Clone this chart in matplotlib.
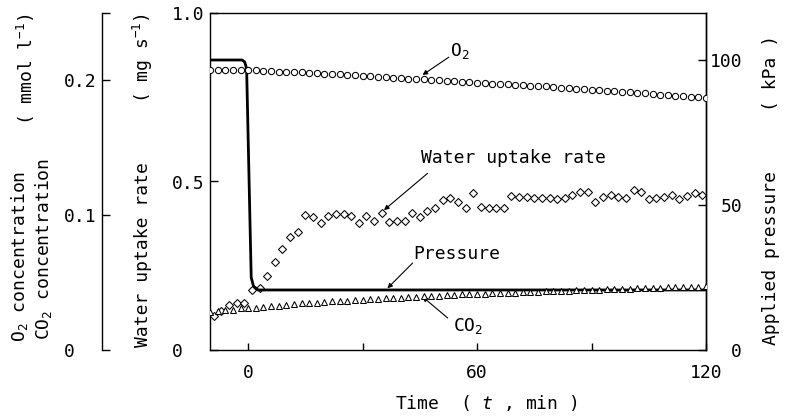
import matplotlib
matplotlib.use("Agg")
import matplotlib.pyplot as plt
import numpy as np

plt.rcParams['font.family'] = ['DejaVu Sans Mono']
plt.rcParams['mathtext.fontset'] = 'custom'
plt.rcParams['mathtext.rm'] = 'DejaVu Sans Mono'
plt.rcParams['mathtext.it'] = 'DejaVu Sans Mono:italic'
plt.rcParams['mathtext.default'] = 'rm'

# ---------------- data ----------------
# O2 / CO2 concentration (mmol l-1), sampled every 2 min from -10 to 120
gas_time = np.arange(-10, 121, 2)
o2_conc = [0.208, 0.208, 0.208, 0.208, 0.208, 0.208,
           0.2075, 0.207, 0.207, 0.2065, 0.2065, 0.206, 0.206, 0.2055, 0.2055,
           0.205, 0.205, 0.2045, 0.204, 0.204, 0.2035,
           0.203, 0.2027, 0.2024, 0.202, 0.2017, 0.2013, 0.201, 0.2007, 0.2003,
           0.200, 0.1997, 0.1993, 0.199, 0.1987, 0.1983, 0.198, 0.1977, 0.1973,
           0.197, 0.1967, 0.1963, 0.196, 0.1957,
           0.1955, 0.1951, 0.1947, 0.1943, 0.1939, 0.1935, 0.1931, 0.1927, 0.1923,
           0.1919, 0.1915, 0.1911, 0.1907, 0.1903, 0.1899, 0.1895, 0.1891, 0.1887,
           0.1883, 0.1879, 0.1875, 0.1871]
co2_conc = [0.028, 0.029, 0.030, 0.030, 0.031, 0.031, 0.0315, 0.032, 0.0325, 0.033,
            0.0335, 0.034, 0.0345, 0.035, 0.0352, 0.0356, 0.036, 0.0363, 0.0367, 0.037,
            0.0373, 0.0376, 0.038, 0.0383, 0.0386, 0.0389, 0.0392, 0.0395, 0.0398, 0.0401,
            0.0404, 0.0407, 0.041, 0.0412, 0.0414, 0.0416, 0.0418, 0.042, 0.0422, 0.0424,
            0.0426, 0.0428, 0.043, 0.0432, 0.0434, 0.0436, 0.0438, 0.044, 0.0442, 0.0444,
            0.0446, 0.0448, 0.045, 0.0452, 0.0454, 0.0456, 0.0458, 0.046, 0.0462, 0.0463,
            0.0465, 0.0466, 0.0468, 0.0469, 0.047, 0.0472]

# Water uptake rate (mg s-1), every 2 min at odd minutes
water_time = np.arange(-9, 120, 2)
water_rate = [0.100, 0.115, 0.133, 0.138, 0.140, 0.178, 0.183, 0.220, 0.262, 0.300,
              0.334, 0.350, 0.400, 0.394, 0.376, 0.398, 0.403, 0.403, 0.398, 0.376,
              0.398, 0.383, 0.406, 0.381, 0.384, 0.384, 0.406, 0.394, 0.413, 0.420,
              0.445, 0.450, 0.438, 0.420, 0.465, 0.425, 0.420, 0.420, 0.422, 0.458,
              0.455, 0.455, 0.452, 0.450, 0.450, 0.447, 0.450, 0.460, 0.470, 0.468,
              0.440, 0.455, 0.460, 0.455, 0.452, 0.475, 0.470, 0.448, 0.450, 0.455,
              0.460, 0.448, 0.458, 0.465, 0.460]

# Applied pressure (kPa)
pressure_time = [-10, -1.6, -0.9, -0.4, 0.8, 1.4, 2.6, 120]
pressure_kpa = [100, 100, 99.3, 97, 25, 22, 20.7, 20.7]

# ---------------- figure ----------------
W, H = 785, 419
fig = plt.figure(figsize=(W / 100, H / 100), dpi=100)
L, R, T, B = 210, 706, 13, 350
ax = fig.add_axes([L / W, 1 - B / H, (R - L) / W, (B - T) / H])
ax.set_xlim(-10, 120)
ax.set_ylim(0, 1.0)

ax_p = ax.twinx()
ax_p.set_ylim(0, (B - T) / 2.9)
ax_c = ax.twinx()
ax_c.set_ylim(0, 0.25)

fs = 13
lw_sp = 1.0
for s in ax.spines.values():
    s.set_linewidth(lw_sp)
for s in ax_p.spines.values():
    s.set_visible(False)
ax_p.spines['right'].set_visible(True)
ax_p.spines['right'].set_linewidth(lw_sp)
for s in ax_c.spines.values():
    s.set_visible(False)
ax_c.spines['left'].set_visible(True)
ax_c.spines['left'].set_position(('axes', (102 - L) / (R - L)))
ax_c.spines['left'].set_linewidth(lw_sp)
ax_c.yaxis.tick_left()
ax_c.yaxis.set_label_position('left')

# ticks
ax.set_xticks([0, 30, 60, 90, 120])
ax.set_xticklabels(['0', '', '60', '', '120'])
ax.set_yticks([0, 0.5, 1.0])
ax.set_yticklabels(['0', '0.5', '1.0'])
ax.tick_params(axis='x', direction='in', length=5, width=1, pad=10, labelsize=fs)
ax.tick_params(axis='y', direction='in', length=6, width=1, pad=27.4, labelsize=fs)
for lab in ax.get_yticklabels():
    lab.set_horizontalalignment('left')

ax_p.set_yticks([0, 50, 100])
ax_p.set_yticklabels(['0', '50', '100'])
ax_p.tick_params(axis='y', direction='in', length=6, width=1, pad=25.9, labelsize=fs)
for lab in ax_p.get_yticklabels():
    lab.set_horizontalalignment('right')

ax_c.set_yticks([0, 0.1, 0.2, 0.25])
ax_c.set_yticklabels(['0', '0.1', '0.2', ''])
ax_c.tick_params(axis='y', direction='in', length=6, width=1, pad=27.4, labelsize=fs)
for lab in ax_c.get_yticklabels():
    lab.set_horizontalalignment('left')

# data
ax_c.plot(gas_time, o2_conc, linestyle='none', marker='o', ms=4.5, mfc='white',
          mec='black', mew=0.75, zorder=3)
ax_c.plot(gas_time, co2_conc, linestyle='none', marker='^', ms=3.7, mfc='white',
          mec='black', mew=0.75, zorder=3)
ax.plot(water_time, water_rate, linestyle='none', marker='D', ms=4.0, mfc='white',
        mec='black', mew=0.75, zorder=3)
ax_p.plot(pressure_time, pressure_kpa, color='black', lw=2.0, zorder=2,
          solid_joinstyle='round')

# annotations
ap = dict(arrowstyle='-|>', lw=0.8, color='black', mutation_scale=7,
          shrinkA=0, shrinkB=0)
ax.annotate('', xy=(45.7, 0.816), xytext=(52.6, 0.869), arrowprops=ap)
ax.text(53.0, 0.887, 'O$_2$', fontsize=fs, ha='left', va='center')
ax.annotate('', xy=(35.6, 0.415), xytext=(47.0, 0.524), arrowprops=ap)
ax.text(45.3, 0.570, 'Water uptake rate', fontsize=fs, ha='left', va='center')
ax.annotate('', xy=(36.5, 0.183), xytext=(43.1, 0.258), arrowprops=ap)
ax.text(43.4, 0.285, 'Pressure', fontsize=fs, ha='left', va='center')
ax.annotate('', xy=(45.7, 0.158), xytext=(52.3, 0.095), arrowprops=ap)
ax.text(53.6, 0.071, 'CO$_2$', fontsize=fs, ha='left', va='center')

# axis labels
def vtext(xp, yp, s, ha):
    fig.text(xp / W, 1 - yp / H, s, rotation=90, rotation_mode='anchor',
             ha=ha, va='center', fontsize=fs)

vtext(20, 342, 'O$_2$ concentration', 'left')
vtext(43, 340, 'CO$_2$ concentration', 'left')
vtext(26, 13, '( mmol l$^{-1}$)', 'right')
vtext(143, 347, 'Water uptake rate', 'left')
vtext(143, 13, '( mg s$^{-1}$)', 'right')
vtext(771, 345, 'Applied pressure', 'left')
vtext(771, 35, '( kPa )', 'right')
fig.text(395 / W, 1 - 403 / H, 'Time  ( $\\mathit{t}$ , min )', ha='left',
         va='center', fontsize=fs)

fig.savefig('out.png', dpi=100)
